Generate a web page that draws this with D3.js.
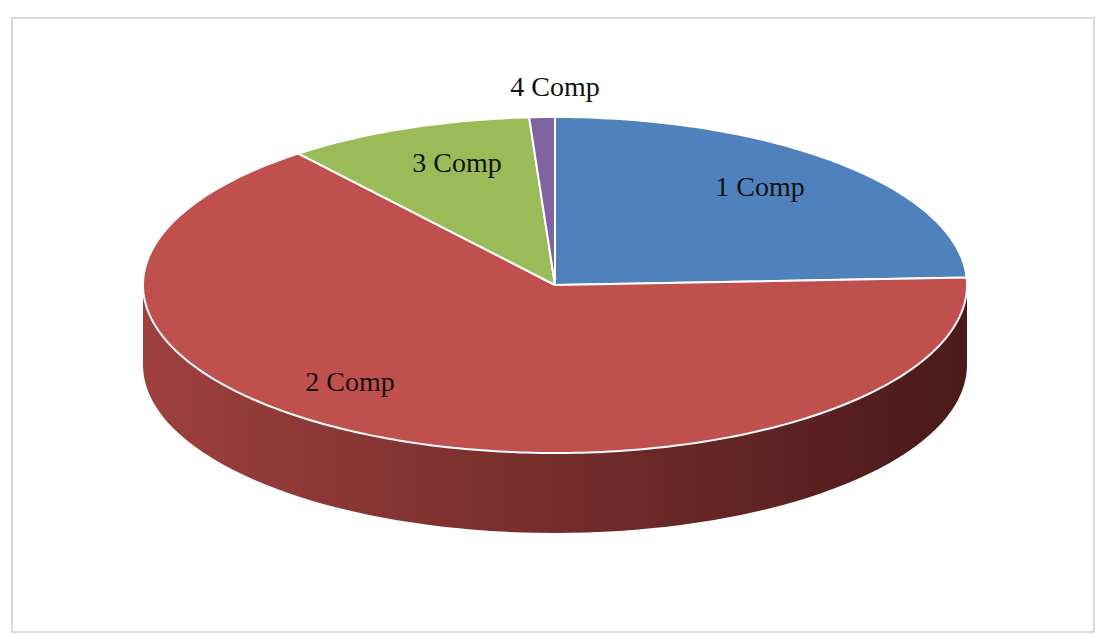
<!DOCTYPE html>
<html><head><meta charset="utf-8">
<script src="https://cdn.jsdelivr.net/npm/d3@7"></script>
<style>body{margin:0;background:#fff}</style>
</head><body>
<svg id="chart" width="1107" height="639"></svg>
<script>
const categories = ["1 Comp", "2 Comp", "3 Comp", "4 Comp"];
const values = [24.3, 65.0, 9.7, 1.0];
const topColors = ["#4F81BD", "#C0504D", "#9BBB59", "#8064A2"];
const sideDark = ["#2c4a6e", "#4a1a19", "#56692f", "#47375b"];
const sideLight = ["#3d6594", "#9e403e", "#7a9446", "#64507f"];
const labelPos = [[760, 190], [350, 385], [457, 166], [555, 90]];

const svg = d3.select("#chart");
const cx = 555, cy = 285, rx = 412, ry = 168, depth = 80;

svg.append("rect").attr("x", 12).attr("y", 18).attr("width", 1082).attr("height", 614)
  .attr("fill", "#fff").attr("stroke", "#d9d9d9").attr("stroke-width", 2);

const arcs = d3.pie().sort(null).value(d => d)(values);
const pt = (t, dy = 0) => [cx + rx * Math.sin(t), cy - ry * Math.cos(t) + dy];

const defs = svg.append("defs");
categories.forEach((c, i) => {
  const g = defs.append("linearGradient").attr("id", "side" + i)
    .attr("gradientUnits", "userSpaceOnUse")
    .attr("x1", cx - rx).attr("x2", cx + rx).attr("y1", 0).attr("y2", 0);
  g.append("stop").attr("offset", "0%").attr("stop-color", sideLight[i]);
  g.append("stop").attr("offset", "100%").attr("stop-color", sideDark[i]);
});

// sides (front half only)
arcs.forEach((a, i) => {
  const s = Math.max(a.startAngle, Math.PI / 2), e = Math.min(a.endAngle, 3 * Math.PI / 2);
  if (e <= s) return;
  const n = 80, top = d3.range(n + 1).map(k => pt(s + (e - s) * k / n));
  const bot = top.map(p => [p[0], p[1] + depth]).reverse();
  svg.append("path").attr("d", d3.line()(top.concat(bot)) + "Z")
    .attr("fill", `url(#side${i})`).attr("stroke", "none");
});

// tops
arcs.forEach((a, i) => {
  const n = Math.max(10, Math.round((a.endAngle - a.startAngle) * 60));
  const pts = [[cx, cy]].concat(d3.range(n + 1).map(k => pt(a.startAngle + (a.endAngle - a.startAngle) * k / n)));
  svg.append("path").attr("d", d3.line()(pts) + "Z")
    .attr("fill", topColors[i]).attr("stroke", "#fff").attr("stroke-width", 2).attr("stroke-linejoin", "round");
});

svg.selectAll("text.lbl").data(categories).join("text").attr("class", "lbl")
  .attr("x", (d, i) => labelPos[i][0]).attr("y", (d, i) => labelPos[i][1])
  .attr("text-anchor", "middle").attr("dominant-baseline", "middle")
  .attr("font-family", "Liberation Serif, Times New Roman, serif").attr("font-size", 28)
  .attr("fill", "#111").text(d => d);
</script>
</body></html>
